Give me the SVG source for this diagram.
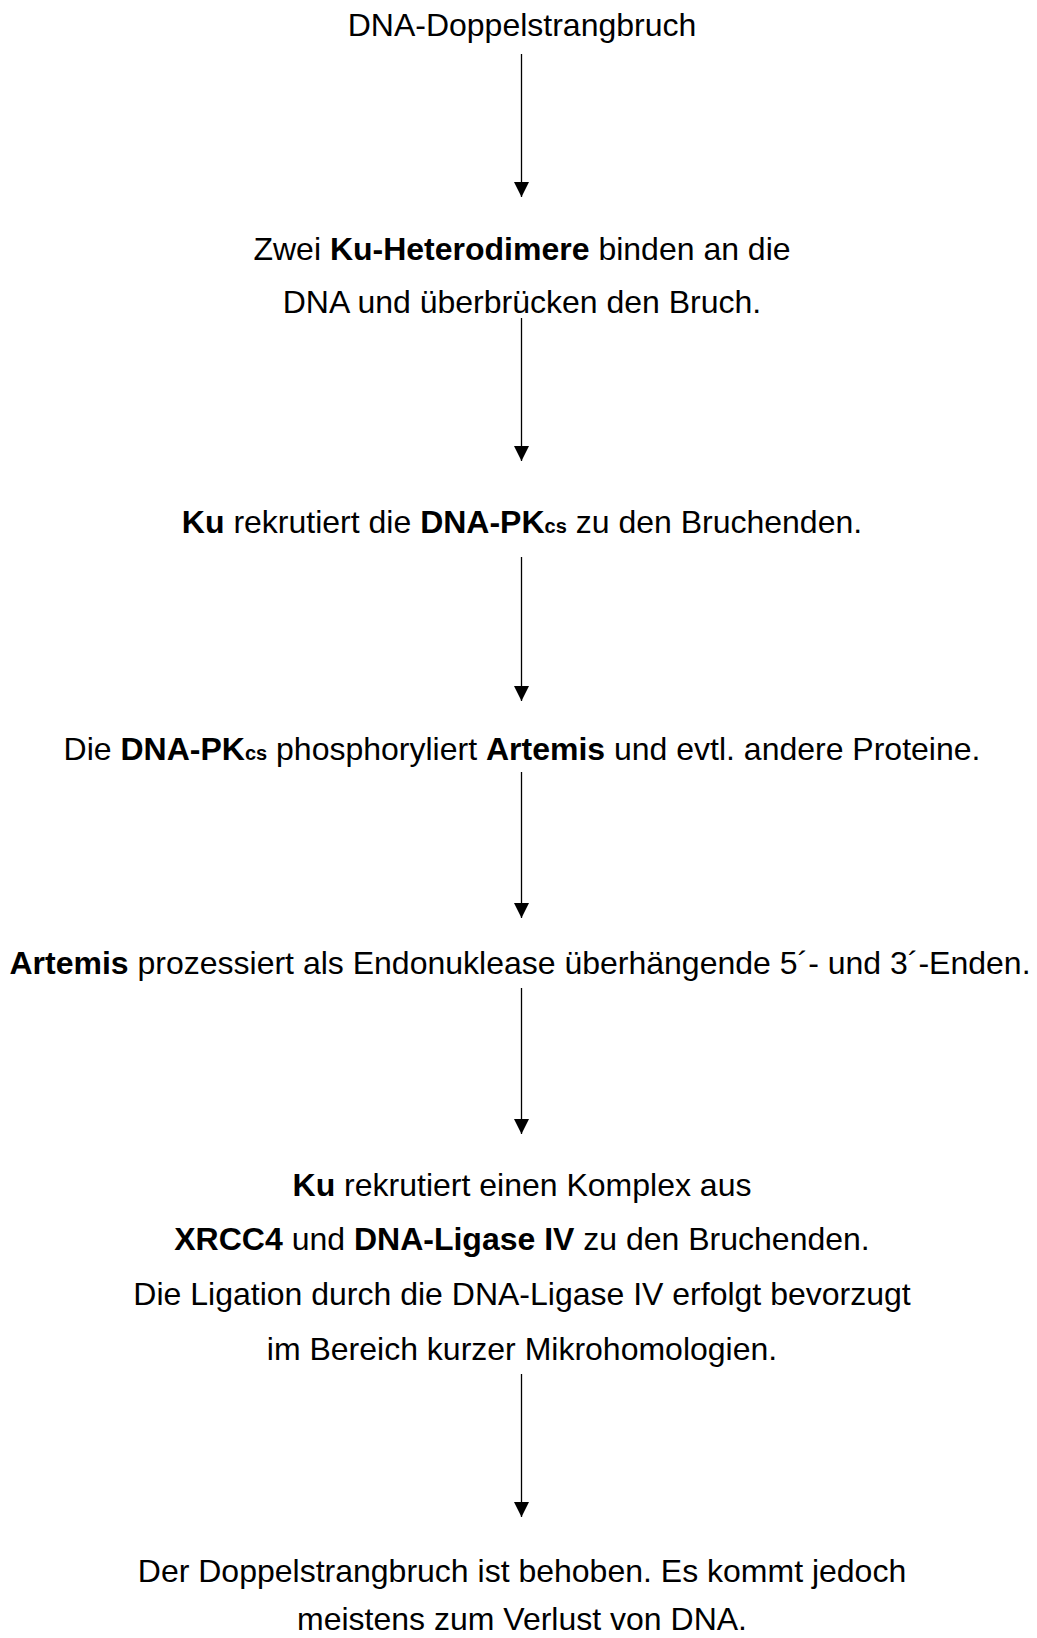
<svg xmlns="http://www.w3.org/2000/svg" width="1037" height="1638" viewBox="0 0 1037 1638">
  <style>
    text { font-family: "Liberation Sans", Arial, sans-serif; font-size: 32px; fill: #000; text-anchor: middle; }
    .b { font-weight: bold; }
    .sub { font-weight: bold; font-size: 20px; }
    .conn { stroke: #000; stroke-width: 1.3; fill: none; }
  </style>
  <defs>
    <marker id="ah" markerUnits="userSpaceOnUse" markerWidth="16" markerHeight="16" viewBox="0 0 16 16" refX="15" refY="7.5" orient="auto">
      <path d="M0,0 L15,7.5 L0,15 Z" fill="#000"/>
    </marker>
  </defs>
  <rect width="1037" height="1638" fill="#fff"/>

  <g id="connectors">
    <line class="conn" x1="521.5" y1="54" x2="521.5" y2="197" marker-end="url(#ah)"/>
    <line class="conn" x1="521.5" y1="318" x2="521.5" y2="461" marker-end="url(#ah)"/>
    <line class="conn" x1="521.5" y1="557" x2="521.5" y2="701" marker-end="url(#ah)"/>
    <line class="conn" x1="521.5" y1="772" x2="521.5" y2="918" marker-end="url(#ah)"/>
    <line class="conn" x1="521.5" y1="988" x2="521.5" y2="1134" marker-end="url(#ah)"/>
    <line class="conn" x1="521.5" y1="1374" x2="521.5" y2="1517" marker-end="url(#ah)"/>
  </g>

  <g id="node1">
    <text x="522" y="36">DNA-Doppelstrangbruch</text>
  </g>
  <g id="node2">
    <text x="522" y="260">Zwei <tspan class="b">Ku-Heterodimere</tspan> binden an die</text>
    <text x="522" y="313">DNA und überbrücken den Bruch.</text>
  </g>
  <g id="node3">
    <text x="522" y="533"><tspan class="b">Ku</tspan> rekrutiert die <tspan class="b">DNA-PK</tspan><tspan class="sub">cs</tspan> zu den Bruchenden.</text>
  </g>
  <g id="node4">
    <text x="522" y="760">Die <tspan class="b">DNA-PK</tspan><tspan class="sub">cs</tspan> phosphoryliert <tspan class="b">Artemis</tspan> und evtl. andere Proteine.</text>
  </g>
  <g id="node5">
    <text x="520" y="974"><tspan class="b">Artemis</tspan> prozessiert als Endonuklease überhängende 5´- und 3´-Enden.</text>
  </g>
  <g id="node6">
    <text x="522" y="1196"><tspan class="b">Ku</tspan> rekrutiert einen Komplex aus</text>
    <text x="522" y="1250"><tspan class="b">XRCC4</tspan> und <tspan class="b">DNA-Ligase IV</tspan> zu den Bruchenden.</text>
    <text x="522" y="1305">Die Ligation durch die DNA-Ligase IV erfolgt bevorzugt</text>
    <text x="522" y="1360">im Bereich kurzer Mikrohomologien.</text>
  </g>
  <g id="node7">
    <text x="522" y="1582">Der Doppelstrangbruch ist behoben. Es kommt jedoch</text>
    <text x="522" y="1630">meistens zum Verlust von DNA.</text>
  </g>
</svg>
